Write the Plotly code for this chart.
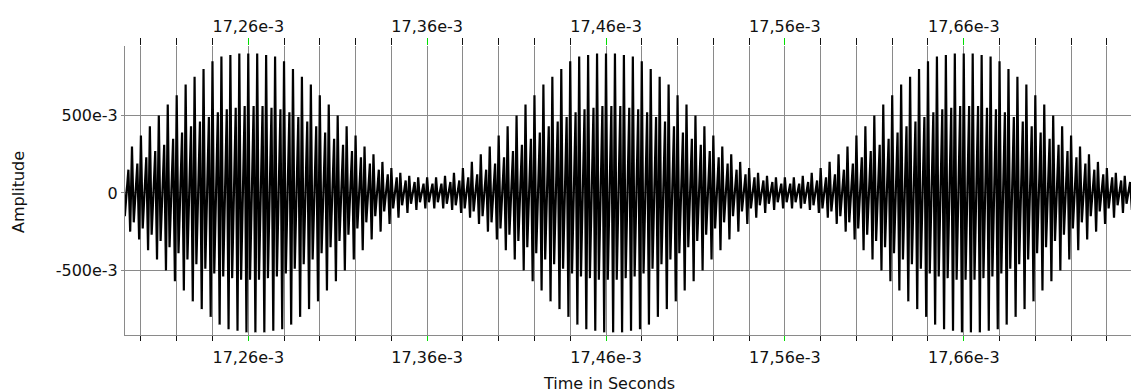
import plotly.graph_objects as go

# ---- data ----
# sampling of the displayed signal (seconds)
sample_start = 17.19e-3
sample_step = 1.0e-6

# per-cycle tall peak amplitudes (one cycle = 5 samples)
tall_peaks = [
    0.25, 0.30, 0.37, 0.43, 0.50, 0.57, 0.63, 0.70, 0.75, 0.80, 0.85, 0.88, 0.89, 0.90,
    0.90,
    0.90, 0.89, 0.88, 0.85, 0.80, 0.75, 0.70, 0.63, 0.57, 0.50, 0.43, 0.37, 0.30, 0.25, 0.20, 0.16, 0.13, 0.11, 0.10, 0.10,
    0.10, 0.11, 0.13, 0.16, 0.20, 0.25, 0.30, 0.37, 0.43, 0.50, 0.57, 0.63, 0.70, 0.75, 0.80, 0.85, 0.88, 0.89, 0.90,
    0.90,
    0.90, 0.89, 0.88, 0.85, 0.80, 0.75, 0.70, 0.63, 0.57, 0.50, 0.43, 0.37, 0.30, 0.25, 0.20, 0.16, 0.13, 0.11, 0.10, 0.10,
    0.10, 0.11, 0.13, 0.16, 0.20, 0.25, 0.30, 0.37, 0.43, 0.50, 0.57, 0.63, 0.70, 0.75, 0.80, 0.85, 0.88, 0.89, 0.90,
    0.90,
    0.90, 0.89, 0.88, 0.85, 0.80, 0.75, 0.70, 0.63, 0.57, 0.50, 0.43, 0.37, 0.30, 0.25, 0.20, 0.16, 0.13, 0.11,
]
# per-cycle lower (secondary) peak amplitudes
low_peaks = [
    0.15, 0.19, 0.23, 0.27, 0.31, 0.35, 0.39, 0.43, 0.46, 0.49, 0.52, 0.54, 0.55, 0.56,
    0.56,
    0.56, 0.55, 0.54, 0.52, 0.49, 0.46, 0.43, 0.39, 0.35, 0.31, 0.27, 0.23, 0.19, 0.15, 0.12, 0.10, 0.08, 0.07, 0.06, 0.06,
    0.06, 0.07, 0.08, 0.10, 0.12, 0.15, 0.19, 0.23, 0.27, 0.31, 0.35, 0.39, 0.43, 0.46, 0.49, 0.52, 0.54, 0.55, 0.56,
    0.56,
    0.56, 0.55, 0.54, 0.52, 0.49, 0.46, 0.43, 0.39, 0.35, 0.31, 0.27, 0.23, 0.19, 0.15, 0.12, 0.10, 0.08, 0.07, 0.06, 0.06,
    0.06, 0.07, 0.08, 0.10, 0.12, 0.15, 0.19, 0.23, 0.27, 0.31, 0.35, 0.39, 0.43, 0.46, 0.49, 0.52, 0.54, 0.55, 0.56,
    0.56,
    0.56, 0.55, 0.54, 0.52, 0.49, 0.46, 0.43, 0.39, 0.35, 0.31, 0.27, 0.23, 0.19, 0.15, 0.12, 0.10, 0.08, 0.07,
]

x_tick_values = [17.26e-3, 17.36e-3, 17.46e-3, 17.56e-3, 17.66e-3]
x_tick_labels = ["17,26e-3", "17,36e-3", "17,46e-3", "17,56e-3", "17,66e-3"]
x_grid_step = 0.02e-3
y_tick_values = [-0.5, 0.0, 0.5]
y_tick_labels = ["-500e-3", "0", "500e-3"]
x_range = [17.1911e-3, 17.7535e-3]
y_range = [-0.917, 0.948]

# one cycle: tall max, low min, crossing, low max, tall min
samples = []
for t_amp, l_amp in zip(tall_peaks, low_peaks):
    samples.extend([t_amp, -l_amp, 0.0, l_amp, -t_amp])

FONT = "DejaVu Sans"
GRID = "#8a8a8a"
GREEN = "#00e000"
TXT = "#111111"
FS = 16

fig = go.Figure()
fig.add_trace(go.Scatter(
    x0=sample_start, dx=sample_step, y=samples,
    mode="lines", line=dict(color="black", width=2.2),
    hoverinfo="skip", showlegend=False,
))
# helper so that the top axis is rendered
fig.add_trace(go.Scatter(
    x=[x_range[0]], y=[0], xaxis="x2", mode="markers",
    marker=dict(opacity=0), hoverinfo="skip", showlegend=False,
))


def x_axis(side, ticklen, grid, standoff):
    return dict(
        range=x_range,
        tickmode="array", tickvals=x_tick_values, ticktext=x_tick_labels,
        ticks="outside", tickcolor=GREEN, tickwidth=1, ticklen=ticklen,
        ticklabelstandoff=standoff,
        tickfont=dict(family=FONT, size=FS, color=TXT),
        minor=dict(tickmode="linear", tick0=x_tick_values[0], dtick=x_grid_step,
                   ticks="outside", tickcolor=TXT, tickwidth=1, ticklen=ticklen,
                   showgrid=grid, gridcolor=GRID, gridwidth=1),
        showgrid=grid, gridcolor=GRID, gridwidth=1,
        side=side, zeroline=False,
    )


xa = x_axis("bottom", 5, True, 3)
xa.update(showline=True, linecolor=GRID, linewidth=1)
xa2 = x_axis("top", 7, False, 0)
xa2.update(overlaying="x", anchor="y", matches="x", showline=False)

fig.update_layout(
    width=1131, height=392,
    margin=dict(l=125, r=0, t=46, b=57, pad=0),
    paper_bgcolor="white", plot_bgcolor="white",
    showlegend=False,
    xaxis=xa,
    xaxis2=xa2,
    yaxis=dict(
        range=y_range,
        tickmode="array", tickvals=y_tick_values, ticktext=y_tick_labels,
        ticks="outside", ticklen=3, tickcolor=GRID,
        tickfont=dict(family=FONT, size=FS, color=TXT),
        showgrid=True, gridcolor=GRID, gridwidth=1,
        showline=True, linecolor=GRID, linewidth=1,
        zeroline=False,
    ),
    annotations=[
        dict(text="Time in Seconds", xref="paper", yref="paper",
             x=0.481, y=-0.167, xanchor="center", yanchor="middle",
             showarrow=False, font=dict(family=FONT, size=FS, color=TXT)),
        dict(text="Amplitude", xref="paper", yref="paper",
             x=-0.1054, y=0.495, xanchor="center", yanchor="middle", textangle=-90,
             showarrow=False, font=dict(family=FONT, size=FS, color=TXT)),
    ],
)

fig.write_html(
    "out.html",
    config={"displayModeBar": False},
    post_script="document.body.style.margin='0';document.body.style.overflow='hidden';",
)
